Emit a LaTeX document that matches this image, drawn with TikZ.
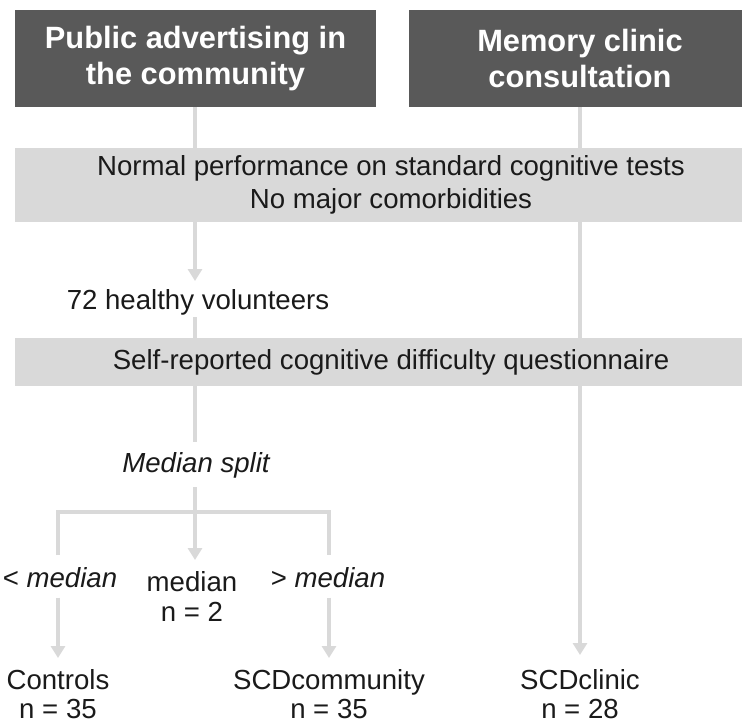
\documentclass[tikz,border=0pt]{standalone}
\usepackage{fontspec}
\setmainfont{Liberation Sans}
\usetikzlibrary{arrows.meta,calc}
\definecolor{darkfill}{HTML}{595959}
\definecolor{lightfill}{HTML}{D9D9D9}
\definecolor{linec}{HTML}{D9D9D9}
\definecolor{txt}{HTML}{1A1A1A}
\begin{document}
\begin{tikzpicture}[x=1pt,y=-1pt,
 titlebox/.style={fill=darkfill, text=white, font=\fontsize{30.8}{36}\selectfont\bfseries, align=center, inner sep=0pt},
 critbox/.style={fill=lightfill, text=txt, font=\fontsize{27.6}{33}\selectfont, align=center, inner sep=0pt},
 lbl/.style={text=txt, font=\fontsize{27.6}{30}\selectfont, align=center, inner sep=0pt, anchor=north},
 endlbl/.style={lbl, font=\fontsize{27.6}{29}\selectfont},
 conn/.style={draw=linec, line width=4.5pt},
 arr/.style={conn, -{Triangle[width=14pt,length=12pt]}},
]
\useasboundingbox (0,0) rectangle (742,726);
\fill[white] (0,0) rectangle (742,726);

\node[titlebox, minimum width=361pt, minimum height=97pt] (pub) at (195.5,58.5) {Public advertising in\\the community};
\node[titlebox, minimum width=342pt, minimum height=97pt] (mem) at (580,58.5) {Memory clinic\\consultation};

\node[critbox, minimum width=752pt, minimum height=74pt] (g1) at (391,185) {Normal performance on standard cognitive tests\\No major comorbidities};
\node[critbox, minimum width=752pt, minimum height=48pt] (g2) at (391,362) {Self-reported cognitive difficulty questionnaire};

\node[lbl] (vol) at (198,289) {72 healthy volunteers};
\node[lbl] (split) at (196,452) {\itshape Median split};
\node[lbl] (lt) at (60,567) {< \itshape median};
\node[lbl] (med) at (192,571) {median\\n = 2};
\node[lbl] (gt) at (328,567) {> \itshape median};
\node[endlbl] (ctrl) at (58,669) {Controls\\n = 35};
\node[endlbl] (scdcom) at (329,669) {SCDcommunity\\n = 35};
\node[endlbl] (scdcli) at (580,669) {SCDclinic\\n = 28};

\coordinate (bar) at (195,512);
\coordinate (bl) at (58,512);
\coordinate (br) at (329,512);
\coordinate (blend) at (58,555);
\coordinate (brend) at (329,555);

\draw[conn] (pub.south -| bar) -- (bar |- g1.north);
\draw[conn] (mem.south) -- (mem.south |- g1.north);
\draw[arr, shorten >=8pt] (bar |- g1.south) -- (bar |- vol.north);
\draw[conn, shorten <=2pt] (bar |- vol.south) -- (bar |- g2.north);
\draw[conn] (mem.south |- g1.south) -- (mem.south |- g2.north);
\draw[arr, shorten >=14pt] (mem.south |- g2.south) -- (scdcli.north);
\draw[conn, shorten >=10pt] (bar |- g2.south) -- (bar |- split.north);
\draw[conn, shorten <=9pt] (bar |- split.south) -- (bar);
\draw[conn] (blend) -- (bl) -- (br) -- (brend);
\draw[arr, shorten >=11pt] (bar) -- (bar |- med.north);
\draw[arr, shorten <=10pt, shorten >=11pt] (lt.south -| bl) -- (ctrl.north -| bl);
\draw[arr, shorten <=10pt, shorten >=11pt] (gt.south -| br) -- (scdcom.north -| br);
\end{tikzpicture}
\end{document}
